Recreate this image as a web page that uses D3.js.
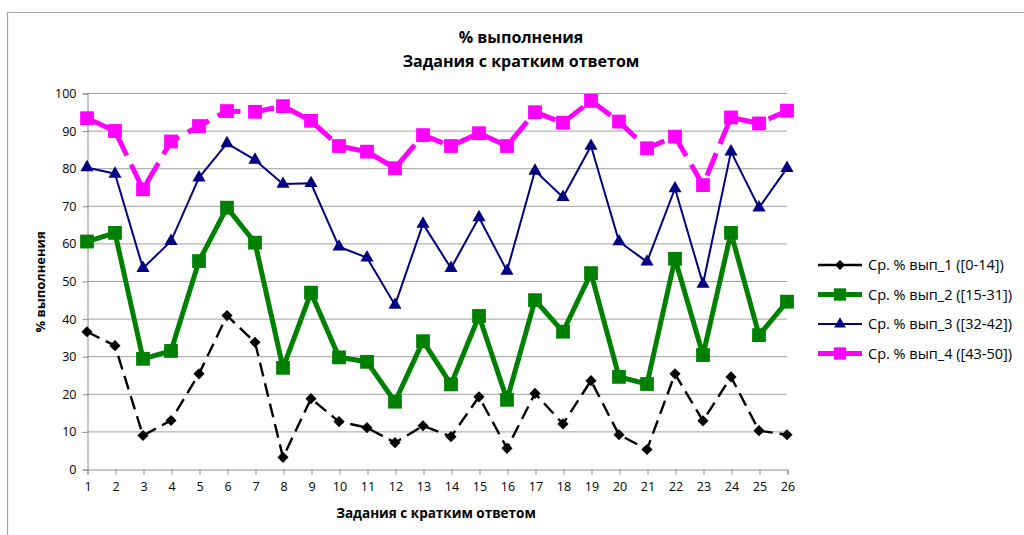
<!DOCTYPE html>
<html><head><meta charset="utf-8">
<script src="https://cdn.jsdelivr.net/npm/d3@7"></script>
<style>
html,body{margin:0;padding:0;background:#fff;}
svg{display:block;font-family:"Open Sans","Noto Sans",sans-serif;}
</style></head>
<body>
<svg id="chart" width="1024" height="535"></svg>
<script>
const tasks = d3.range(1, 27).map(String);
const yTicks = [0,10,20,30,40,50,60,70,80,90,100];
const s1 = [36.5,32.8,8.9,12.9,25.3,40.8,33.7,3.1,18.7,12.6,11.0,7.0,11.5,8.6,19.2,5.5,20.1,12.0,23.5,9.1,5.2,25.3,12.8,24.5,10.2,9.1];
const s2 = [60.5,62.8,29.3,31.4,55.3,69.5,60.2,26.9,46.9,29.7,28.5,17.9,34.0,22.5,40.7,18.4,44.9,36.5,52.1,24.5,22.6,55.9,30.3,62.8,35.6,44.5];
const s3 = [80.2,78.5,53.4,60.6,77.5,86.6,82.2,75.8,76.0,59.1,56.2,43.6,65.2,53.4,66.9,52.7,79.3,72.3,85.9,60.5,55.1,74.6,49.2,84.4,69.5,80.0];
const s4 = [93.3,89.9,74.4,87.1,91.2,95.2,95.0,96.5,92.6,85.9,84.4,80.0,88.8,85.9,89.3,85.9,94.9,92.1,97.9,92.4,85.3,88.4,75.5,93.5,91.9,95.3];
const seriesNames = ["Ср. % вып_1 ([0-14])","Ср. % вып_2 ([15-31])","Ср. % вып_3 ([32-42])","Ср. % вып_4 ([43-50])"];

const svg = d3.select("#chart");
const styles = [
  {color:"#000000", width:2.4, dash:"14,7", marker:d3.symbolSquare, rot:45, msize:62, values:s1},
  {color:"#008000", width:5, dash:null, marker:d3.symbolSquare, rot:0, msize:190, values:s2},
  {color:"#000080", width:2, dash:null, marker:d3.symbolTriangle, rot:0, msize:75, values:s3},
  {color:"#ff00ff", width:5, dash:"24,10", marker:d3.symbolSquare, rot:0, msize:190, values:s4}
];

// frame
svg.append("path").attr("d","M7.5,540 V12.5 H1030").attr("fill","none").attr("stroke","#a6a6a6").attr("stroke-width",1.2);

const x = d3.scalePoint().domain(tasks).range([87, 787]);
const y = d3.scaleLinear().domain([0,100]).range([469, 93]);

// gridlines
svg.append("g").selectAll("line").data(yTicks.slice(1)).join("line")
  .attr("x1",87).attr("x2",787).attr("y1",d=>y(d)+0.5).attr("y2",d=>y(d)+0.5)
  .attr("stroke","#a0a0a0").attr("stroke-width",1);

// y axis
const ya = svg.append("g").attr("transform","translate(87.5,0.5)")
  .call(d3.axisLeft(y).tickValues(yTicks).tickSize(5).tickPadding(6));
ya.select(".domain").attr("stroke","#8c8c8c");
ya.selectAll(".tick line").attr("stroke","#8c8c8c");
ya.selectAll("text").attr("font-size",12.5).attr("fill","#000").attr("font-family","'Open Sans',sans-serif");

// x axis
const xa = svg.append("g").attr("transform","translate(0.5,469.5)")
  .call(d3.axisBottom(x).tickSize(5).tickPadding(8));
xa.select(".domain").attr("stroke","#8c8c8c");
xa.selectAll(".tick line").attr("stroke","#8c8c8c");
xa.selectAll("text").attr("font-size",12.5).attr("fill","#000").attr("font-family","'Open Sans',sans-serif");

// series
styles.forEach(st => {
  const line = d3.line().x((d,i)=>x(tasks[i])).y(d=>y(d));
  svg.append("path").datum(st.values).attr("d",line)
    .attr("fill","none").attr("stroke",st.color).attr("stroke-width",st.width)
    .attr("stroke-dasharray",st.dash).attr("stroke-linejoin","round")
    .attr("stroke-linecap", st.dash ? "butt" : "round");
  svg.append("g").selectAll("path").data(st.values).join("path")
    .attr("d", d3.symbol().type(st.marker).size(st.msize))
    .attr("transform",(d,i)=>`translate(${x(tasks[i])},${y(d)}) rotate(${st.rot})`)
    .attr("fill",st.color);
});

// titles
svg.append("text").attr("x",521).attr("y",43).attr("text-anchor","middle")
  .attr("font-weight","bold").attr("font-size",16).text("% выполнения");
svg.append("text").attr("x",521).attr("y",67).attr("text-anchor","middle")
  .attr("font-weight","bold").attr("font-size",16).text("Задания с кратким ответом");
svg.append("text").attr("x",436).attr("y",518).attr("text-anchor","middle")
  .attr("font-weight","bold").attr("font-size",13.5).text("Задания  с кратким  ответом");
svg.append("text").attr("transform","translate(45,282) rotate(-90)").attr("text-anchor","middle")
  .attr("font-weight","bold").attr("font-size",13).text("% выполнения");

// legend
const leg = svg.append("g");
styles.forEach((st,i) => {
  const ly = 265 + i*29.5;
  leg.append("line").attr("x1",818).attr("x2",862).attr("y1",ly).attr("y2",ly)
    .attr("stroke",st.color).attr("stroke-width",st.width);
  leg.append("path").attr("d", d3.symbol().type(st.marker).size(st.msize*0.8))
    .attr("transform",`translate(840,${ly}) rotate(${st.rot})`).attr("fill",st.color);
  leg.append("text").attr("x",868).attr("y",ly+5).attr("font-size",14.5).text(seriesNames[i]);
});
</script>
</body></html>
